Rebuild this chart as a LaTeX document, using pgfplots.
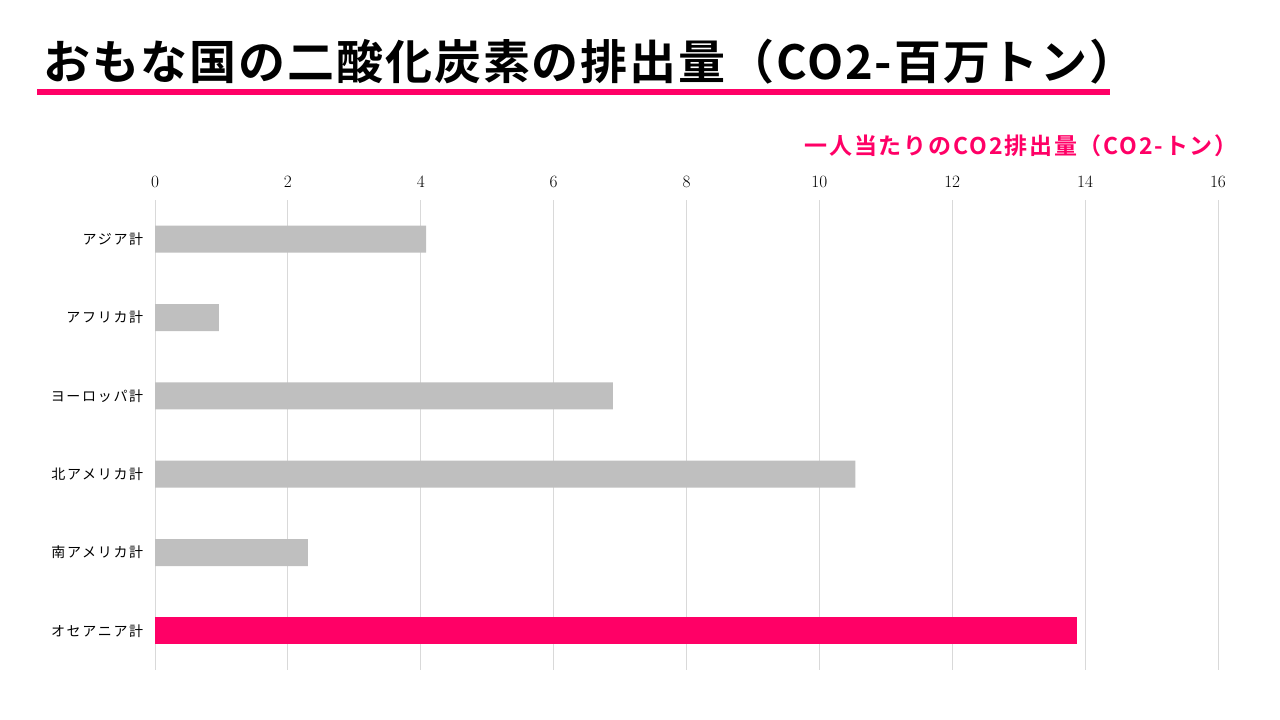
\documentclass[border=0pt]{standalone}
\usepackage{pgfplots}
\pgfplotsset{compat=1.18}
\usepackage{fontspec}
\newfontfamily\jp[LetterSpace=12]{Noto Sans CJK JP}
\newfontfamily\jpb[LetterSpace=4]{Noto Sans CJK JP Bold}
\newfontfamily\jpc[LetterSpace=8]{Noto Sans CJK JP Bold}
\definecolor{pink}{HTML}{FF0066}
\definecolor{bargray}{HTML}{BFBFBF}
\definecolor{gridgray}{HTML}{D9D9D9}
\begin{document}
\begin{tikzpicture}[x=1pt,y=1pt]
\path[use as bounding box] (0,0) rectangle (1280,720);
\fill[pink] (37,625) rectangle (1110,631);
\node[anchor=west,inner sep=0pt] at (43,658) {\jpb\fontsize{47}{47}\selectfont おもな国の二酸化炭素の排出量（CO2-百万トン）};
\node[anchor=east,inner sep=0pt,text=pink] at (1238,574.5) {\jpc\fontsize{23}{23}\selectfont 一人当たりのCO2排出量（CO2-トン）};
\begin{axis}[
  at={(155pt,50pt)}, anchor=south west, scale only axis,
  width=1063pt, height=470pt,
  xmin=0, xmax=16, ymin=-0.5, ymax=5.5, y dir=reverse,
  xbar, bar width=27pt,
  xtick={0,2,...,16}, xmajorgrids, grid style={color=gridgray, line width=1pt},
  ytick={0,...,5},
  yticklabels={アジア計,アフリカ計,ヨーロッパ計,北アメリカ計,南アメリカ計,オセアニア計},
  yticklabel style={font=\jp\fontsize{14}{14}\selectfont, xshift=-4pt},
  xticklabel style={font=\fontsize{16}{16}\selectfont, yshift=9pt},
  xticklabel pos=upper,
  axis line style={draw=none}, major tick style={draw=none},
]
\addplot[fill=bargray, draw=none, bar shift=0pt] coordinates {(4.08,0) (0.96,1) (6.89,2) (10.54,3) (2.30,4)};
\addplot[fill=pink, draw=none, bar shift=0pt] coordinates {(13.88,5)};
\end{axis}
\end{tikzpicture}
\end{document}
